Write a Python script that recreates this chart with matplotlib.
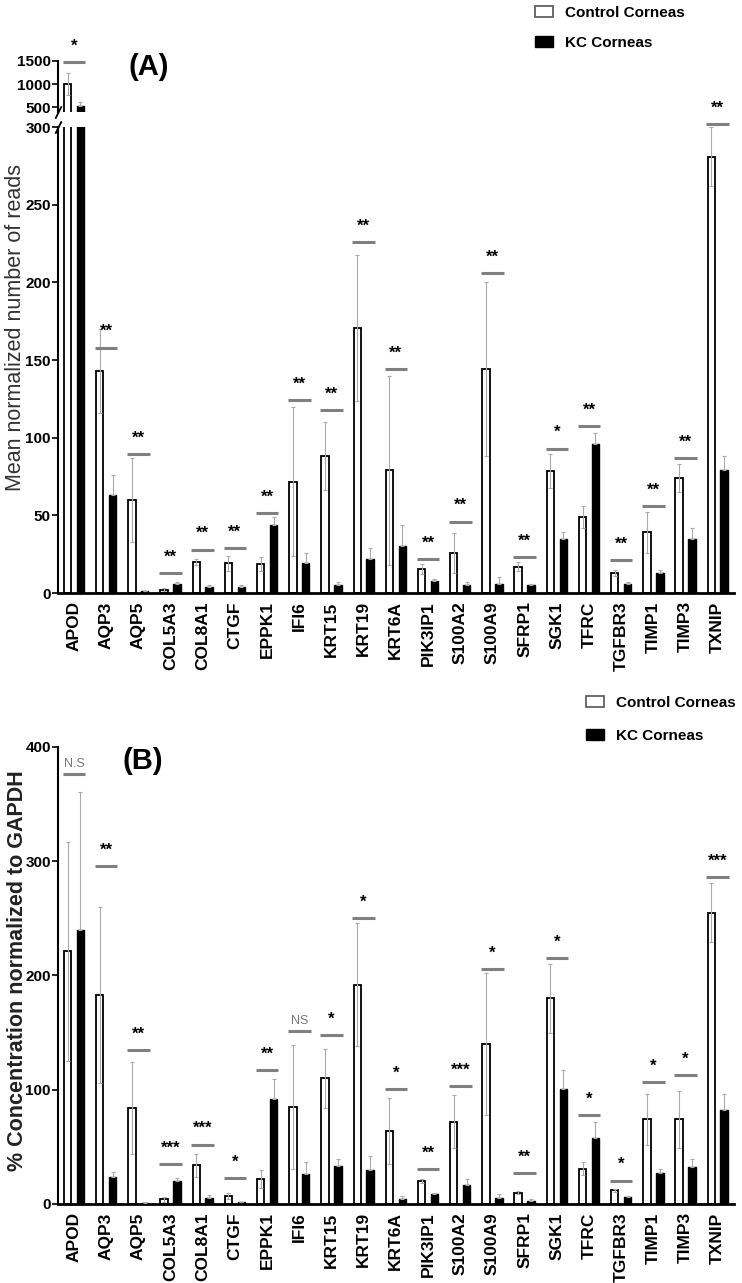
import matplotlib
matplotlib.use("Agg")
import matplotlib.pyplot as plt
from matplotlib.patches import Patch
import numpy as np

plt.rcParams['font.family'] = ['Liberation Sans', 'DejaVu Sans']

genes = ['APOD', 'AQP3', 'AQP5', 'COL5A3', 'COL8A1', 'CTGF', 'EPPK1', 'IFI6',
         'KRT15', 'KRT19', 'KRT6A', 'PIK3IP1', 'S100A2', 'S100A9', 'SFRP1',
         'SGK1', 'TFRC', 'TGFBR3', 'TIMP1', 'TIMP3', 'TXNIP']

# (A) mean normalized reads
a_ctrl = [1000, 143, 60, 2, 20, 19, 18.7, 71.7, 88, 170.6, 79, 15.5, 25.8, 144, 17, 78.6, 49, 13, 39, 74, 281]
a_ctrl_sd = [230, 27, 27, 1, 2, 5, 4.5, 48, 22, 47, 61, 3, 13, 56, 3, 11, 7, 2, 13, 9, 19]
a_kc = [520, 63, 1, 6, 4, 4, 44, 19, 5, 22, 30, 7.7, 5, 6, 5, 35, 96, 6, 13, 35, 79]
a_kc_sd = [100, 13, 0.5, 1, 1, 1, 5, 7, 2, 7, 14, 1, 2, 4, 1, 4, 7, 1, 2, 7, 9]
a_sig = ['*', '**', '**', '**', '**', '**', '**', '**', '**', '**', '**',
         '**', '**', '**', '**', '*', '**', '**', '**', '**', '**']
a_sig_y = [1478, 158, 89.5, 13, 28, 29, 51.5, 124, 118, 226, 144, 22, 46, 206, 23, 93, 107.5, 21, 56, 87, 302]

# (B) % concentration normalized to GAPDH
b_ctrl = [221, 183, 84, 4, 34, 7, 22, 85, 110, 192, 64, 20, 72, 140, 10, 180, 31, 12, 74, 74, 255]
b_ctrl_sd = [96, 77, 40, 2, 10, 3, 8, 54, 26, 54, 29, 1.5, 23, 62, 1.5, 30, 6, 1.5, 22, 25, 26]
b_kc = [240, 24, 1, 20, 5, 1.5, 92, 26, 33, 30, 4, 9, 17, 5, 3, 101, 58, 6, 27, 32, 82]
b_kc_sd = [121, 4, 0.5, 3, 3, 0.5, 17, 11, 6, 12, 3, 1, 5, 4, 1, 16, 14, 1, 4, 7, 14]
b_sig = ['N.S', '**', '**', '***', '***', '*', '**', 'NS', '*', '*', '*',
         '**', '***', '*', '**', '*', '*', '*', '*', '*', '***']
b_sig_y = [376, 296, 135, 35, 52, 22.5, 117, 151, 148, 250, 100.6, 30.7, 103.5, 206, 27, 215, 78, 20.5, 106.4, 113, 286]

x = np.arange(len(genes))
w = 0.23
off = 0.2
err_kw = dict(ecolor='#aaaaaa', elinewidth=0.8, capsize=1.5, capthick=0.8)


def draw_bars(ax, ctrl, ctrl_sd, kc, kc_sd):
    ax.bar(x - off, ctrl, w, color='white', edgecolor='black', linewidth=1.3, zorder=2)
    ax.bar(x + off, kc, w, color='black', edgecolor='black', linewidth=1.0, zorder=2)
    ax.errorbar(x - off, ctrl, yerr=ctrl_sd, fmt='none', zorder=3, **err_kw)
    ax.errorbar(x + off, kc, yerr=[np.zeros(len(kc)), kc_sd], fmt='none', zorder=3, **err_kw)


def draw_sig(ax, labels, ys, ymin, ymax):
    for xi, lab, y in zip(x, labels, ys):
        if ymin <= y <= ymax + 10:
            ax.plot([xi - 0.35, xi + 0.35], [y, y], color='#808080', lw=2.2,
                    solid_capstyle='butt', clip_on=False, zorder=4)
            if 'N' in lab:
                ax.annotate(lab, (xi, y), xytext=(0, 3), textcoords='offset points',
                            ha='center', va='bottom', fontsize=9, color='#777777',
                            annotation_clip=False)
            else:
                ax.annotate(lab, (xi, y), xytext=(0, 6), textcoords='offset points',
                            ha='center', va='bottom', fontsize=12, fontweight='bold',
                            color='black', annotation_clip=False)


fig = plt.figure(figsize=(7.42, 12.83), dpi=100)

# ---- panel A, broken axis ----
L, W = 0.078, 0.911
axA_top = fig.add_axes([L, 0.9127, W, 0.0398])
axA = fig.add_axes([L, 0.5378, W, 0.3632])

for ax in (axA_top, axA):
    draw_bars(ax, a_ctrl, a_ctrl_sd, a_kc, a_kc_sd)
    ax.set_xlim(-0.5, len(genes) - 0.5)
    for s in ['top', 'right']:
        ax.spines[s].set_visible(False)
    ax.spines['left'].set_linewidth(1.5)
    ax.tick_params(axis='y', direction='out', length=4, width=1.2,
                   labelsize=11, pad=1)

axA_top.set_ylim(400, 1500)
axA_top.set_yticks([500, 1000, 1500])
axA_top.spines['bottom'].set_visible(False)
axA_top.set_xticks([])
draw_sig(axA_top, a_sig, a_sig_y, 400, 1500)

axA.set_ylim(0, 300)
axA.set_yticks(range(0, 301, 50))
axA.spines['bottom'].set_linewidth(2)
axA.set_xticks(x)
axA.set_xticklabels(genes, rotation=90, fontsize=12.5, fontweight='bold')
axA.tick_params(axis='x', length=0, pad=6)
draw_sig(axA, a_sig, a_sig_y, 0, 300)

for lab in axA_top.get_yticklabels() + axA.get_yticklabels():
    lab.set_fontweight('bold')

# break marks
brk = dict(marker=[(-0.5, -1), (0.5, 1)], markersize=9, linestyle='none',
           color='k', mec='k', mew=1.3, clip_on=False)
axA_top.plot([0], [0], transform=axA_top.transAxes, **brk)
axA.plot([0], [1], transform=axA.transAxes, **brk)

fig.text(0.021, 1 - 327 / 1283, 'Mean normalized number of reads', rotation=90,
         ha='center', va='center', fontsize=15.5, color='#333333')
fig.text(128 / 742, 1 - 67 / 1283, '(A)', fontsize=21, fontweight='bold',
         ha='left', va='center')

handles = [Patch(facecolor='white', edgecolor='#555555', linewidth=1.2),
           Patch(facecolor='black', edgecolor='black')]
fig.legend(handles, ['Control Corneas', 'KC Corneas'], loc='upper left',
           bbox_to_anchor=(527 / 742, 1 + 2 / 1283), frameon=False,
           prop={'weight': 'bold', 'size': 11}, handlelength=1.2,
           handleheight=0.7, handletextpad=0.8, labelspacing=1.05, borderpad=0)

# ---- panel B ----
axB = fig.add_axes([L, 0.0616, W, 0.3562])
draw_bars(axB, b_ctrl, b_ctrl_sd, b_kc, b_kc_sd)
axB.set_xlim(-0.5, len(genes) - 0.5)
axB.set_ylim(0, 400)
axB.set_yticks(range(0, 401, 100))
for s in ['top', 'right']:
    axB.spines[s].set_visible(False)
axB.spines['left'].set_linewidth(1.5)
axB.spines['bottom'].set_linewidth(2)
axB.tick_params(axis='y', direction='out', length=4, width=1.2, labelsize=11, pad=1)
axB.set_xticks(x)
axB.set_xticklabels(genes, rotation=90, fontsize=12.5, fontweight='bold')
axB.tick_params(axis='x', length=0, pad=6)
for lab in axB.get_yticklabels():
    lab.set_fontweight('bold')
draw_sig(axB, b_sig, b_sig_y, 0, 400)

fig.text(0.023, 1 - 971 / 1283, '% Concentration normalized to GAPDH', rotation=90,
         ha='center', va='center', fontsize=15.5, fontweight='bold', color='#222222')
fig.text(122 / 742, 1 - 761 / 1283, '(B)', fontsize=21, fontweight='bold',
         ha='left', va='center')
fig.legend(handles, ['Control Corneas', 'KC Corneas'], loc='upper left',
           bbox_to_anchor=(578 / 742, 1 - 688 / 1283), frameon=False,
           prop={'weight': 'bold', 'size': 11}, handlelength=1.2,
           handleheight=0.7, handletextpad=0.8, labelspacing=1.25, borderpad=0)

fig.savefig('out.png', dpi=100)
